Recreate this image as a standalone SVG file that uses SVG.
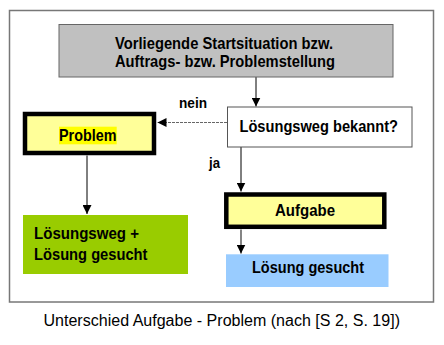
<svg xmlns="http://www.w3.org/2000/svg" width="444" height="345" viewBox="0 0 444 345">
<defs>
<style>
.t{font-family:"Liberation Sans",Arial,sans-serif;font-weight:bold;font-size:17px;fill:#000}
.lbl{font-family:"Liberation Sans",Arial,sans-serif;font-weight:bold;font-size:14px;fill:#000}
.cap{font-family:"Liberation Sans",Arial,sans-serif;font-size:16px;fill:#000}
.thick{stroke:#000;stroke-width:4.5}
.ln{stroke:#000;stroke-width:1;fill:none}
</style>
<marker id="ah" viewBox="0 0 10 10" refX="10" refY="5" markerWidth="9" markerHeight="9" markerUnits="userSpaceOnUse" orient="auto">
<path d="M0,0 L10,5 L0,10 z" fill="#000"/>
</marker>
</defs>
<rect width="444" height="345" fill="#fff"/>
<rect id="frame" x="9.5" y="10.5" width="424" height="291.5" fill="#fff" stroke="#777" stroke-width="1.5"/>
<g id="connectors">
<line class="ln" x1="256" y1="77" x2="256" y2="106.5" marker-end="url(#ah)"/>
<line x1="227" y1="122.5" x2="157.5" y2="122.5" stroke="#666" stroke-width="1" stroke-dasharray="3,1" marker-end="url(#ah)"/>
<line class="ln" x1="241" y1="147" x2="241" y2="191.5" marker-end="url(#ah)"/>
<line class="ln" x1="87" y1="155.5" x2="87" y2="214" marker-end="url(#ah)"/>
<line x1="241" y1="229.5" x2="241" y2="253.5" stroke="#333" stroke-width="1.2" marker-end="url(#ah)"/>
<text class="lbl" x="179" y="108" textLength="28" lengthAdjust="spacingAndGlyphs">nein</text>
<text class="lbl" x="209" y="168" textLength="11" lengthAdjust="spacingAndGlyphs">ja</text>
</g>
<g id="start">
<rect x="59" y="24.5" width="334" height="52.5" fill="#c0c0c0" stroke="#666" stroke-width="1"/>
<text class="t" x="115" y="49" textLength="218" lengthAdjust="spacingAndGlyphs">Vorliegende Startsituation bzw.</text>
<text class="t" x="115" y="67" textLength="220" lengthAdjust="spacingAndGlyphs">Auftrags- bzw. Problemstellung</text>
</g>
<g id="frage">
<rect x="227.5" y="107" width="184.5" height="40" fill="#fff" stroke="#555" stroke-width="1"/>
<text class="t" x="239.5" y="131.5" textLength="158.5" lengthAdjust="spacingAndGlyphs">Lösungsweg bekannt?</text>
</g>
<g id="problem">
<rect class="thick" x="25" y="114" width="129" height="39" fill="#ffff99"/>
<rect x="59" y="126.7" width="57.7" height="17.6" fill="#ffff00"/>
<text class="t" x="59" y="140.5" textLength="57.5" lengthAdjust="spacingAndGlyphs">Problem</text>
</g>
<g id="aufgabe">
<rect class="thick" x="226.3" y="194.5" width="158" height="32.3" fill="#ffff99"/>
<text class="t" x="305" y="215.5" text-anchor="middle" textLength="60" lengthAdjust="spacingAndGlyphs">Aufgabe</text>
</g>
<g id="loesung1">
<rect x="23" y="215" width="165" height="59" fill="#99cc00"/>
<text class="t" x="34" y="238.5" textLength="105" lengthAdjust="spacingAndGlyphs">Lösungsweg +</text>
<text class="t" x="34" y="260" textLength="113.5" lengthAdjust="spacingAndGlyphs">Lösung gesucht</text>
</g>
<g id="loesung2">
<rect x="226" y="254.3" width="162.5" height="32.7" fill="#99ccff"/>
<text class="t" x="252" y="272.5" textLength="112" lengthAdjust="spacingAndGlyphs">Lösung gesucht</text>
</g>
<text class="cap" x="43.5" y="326" textLength="356.5" lengthAdjust="spacingAndGlyphs">Unterschied Aufgabe - Problem (nach [S 2, S. 19])</text>
</svg>
